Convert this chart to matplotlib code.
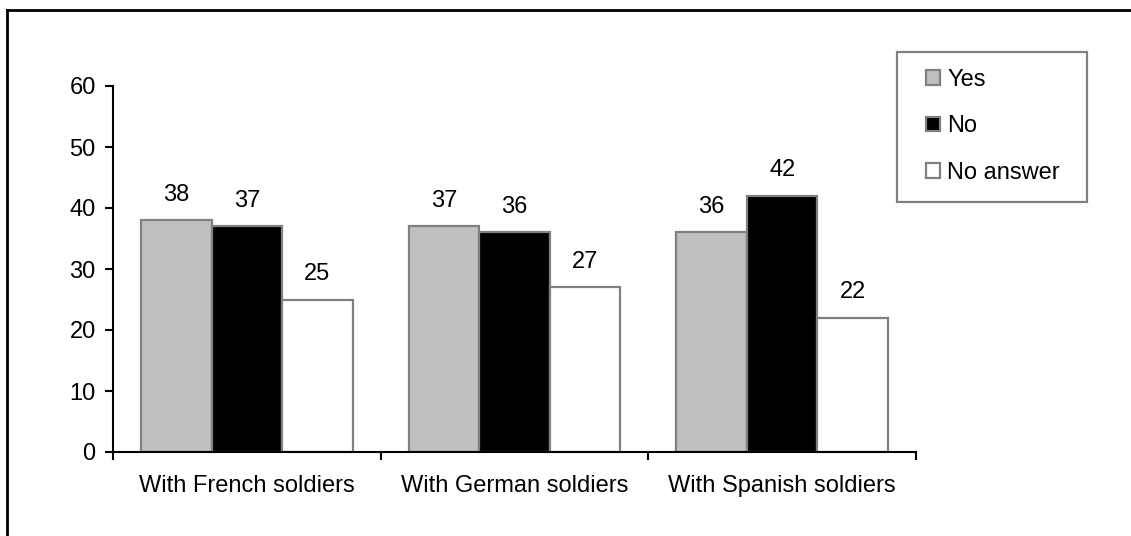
import matplotlib
matplotlib.use("Agg")
import matplotlib.pyplot as plt
from matplotlib.lines import Line2D
from matplotlib.patches import Patch, Rectangle
import numpy as np

plt.rcParams['font.family'] = ['Liberation Sans', 'DejaVu Sans']

# Data
groups = ["With French soldiers", "With German soldiers", "With Spanish soldiers"]
series = ["Yes", "No", "No answer"]
yes = [38, 37, 36]
no = [37, 36, 42]
no_answer = [25, 27, 22]
colors = ["#c0c0c0", "#000000", "#ffffff"]
edge = "#808080"

W, H = 1131, 536
fig = plt.figure(figsize=(W / 100, H / 100), dpi=100)

# axes placed to match the pixel layout of the reference
ax = fig.add_axes([113 / W, 1 - 452 / H, (916 - 113) / W, (452 - 86) / H])

centers = np.arange(len(groups)) + 0.5
bw = 0.2635
for k, (vals, col) in enumerate(zip([yes, no, no_answer], colors)):
    xs = centers + (k - 1) * bw
    ax.bar(xs, vals, width=bw, color=col, edgecolor=edge, linewidth=1.6, zorder=2)
    for x, v in zip(xs, vals):
        ax.annotate(str(v), (x, v), xytext=(0, 14), textcoords="offset points",
                    ha="center", va="baseline", fontsize=17)

ax.set_xlim(0, len(groups))
ax.set_ylim(0, 60)
ax.set_yticks(range(0, 61, 10))
ax.set_xticks(range(len(groups) + 1))
ax.set_xticklabels([])
ax.set_xticks(centers, minor=True)
ax.set_xticklabels(groups, minor=True)

ax.tick_params(axis="both", which="major", direction="out", length=5.5, width=1.5,
               labelsize=17, color="black")
ax.tick_params(axis="y", pad=7)
ax.tick_params(axis="x", which="minor", length=0, pad=16.5, labelsize=17)

for s in ["top", "right"]:
    ax.spines[s].set_visible(False)
for s in ["left", "bottom"]:
    ax.spines[s].set_linewidth(1.5)
    ax.spines[s].set_color("black")

# legend without frame, frame drawn separately
handles = [Patch(facecolor=c, edgecolor=edge, linewidth=1.6) for c in colors]
fig.legend(handles, series, loc="upper left", bbox_to_anchor=(926 / W, 1 - 69 / H),
           bbox_transform=fig.transFigure, frameon=False, fontsize=17,
           handlelength=0.6, handleheight=0.6, handletextpad=0.3,
           labelspacing=1.03, borderpad=0, borderaxespad=0)
fig.add_artist(Rectangle((897 / W, 1 - 202 / H), (1087 - 897) / W, (202 - 52) / H,
                         transform=fig.transFigure, fill=False, edgecolor=edge,
                         linewidth=1.6))

# outer chart border (left and top edges visible)
fig.add_artist(Line2D([7 / W, 7 / W], [0, 1 - 9.5 / H], transform=fig.transFigure,
                      color="black", linewidth=2))
fig.add_artist(Line2D([7 / W, 1], [1 - 9.5 / H, 1 - 9.5 / H], transform=fig.transFigure,
                      color="black", linewidth=2))

fig.savefig("out.png", dpi=100)
